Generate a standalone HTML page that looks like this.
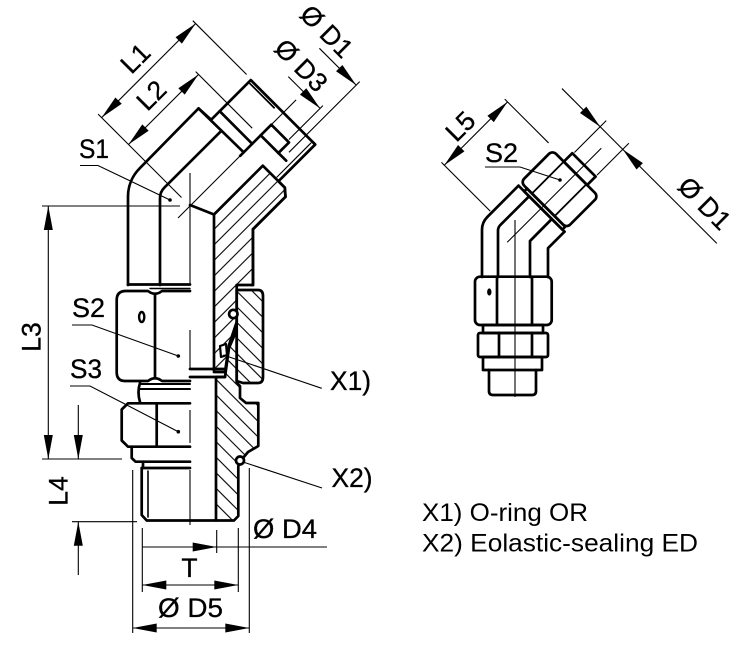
<!DOCTYPE html>
<html><head><meta charset="utf-8">
<style>
html,body{margin:0;padding:0;background:#fff;}
svg{display:block;}
text{font-family:"Liberation Sans",Arial,sans-serif;fill:#000;}
</style></head><body>
<svg width="745" height="652" viewBox="0 0 745 652" xmlns="http://www.w3.org/2000/svg">
<defs>
<pattern id="hf" width="11" height="11" patternUnits="userSpaceOnUse" patternTransform="rotate(45)">
<line x1="5.5" y1="0" x2="5.5" y2="11" stroke="#000" stroke-width="1.1"/>
</pattern>
<pattern id="hb" width="11" height="11" patternUnits="userSpaceOnUse" patternTransform="rotate(-45)">
<line x1="5.5" y1="0" x2="5.5" y2="11" stroke="#000" stroke-width="1.1"/>
</pattern>
<path id="ar" d="M0,0 L-24,-4.5 L-24,4.5Z" fill="#000"/>
</defs>
<rect width="745" height="652" fill="#fff"/>

<!-- ===== MAIN FIGURE: hatched sections ===== -->
<g stroke="#000" stroke-width="2.7" stroke-linejoin="round" stroke-linecap="round">
<polygon fill="url(#hf)" points="214,214.5 262.8,165.7 284.8,187.6 285.5,196.8 252.9,229.3 253,285 236.7,285 236.7,322 229,345 225,372 214,372"/>
<polygon fill="url(#hb)" points="216,377 225,377 229,348 236.7,330 236.7,383 240,386 240,398 246,403 258.3,403 258.3,446 248,452 243,458 238.3,466 238.3,516 234,520.5 216,520.5"/>
<path fill="url(#hb)" d="M236.7,290 L258,290 Q263,290 263,296 L263,377 Q263,383 258,383 L243,383 L236.7,381 Z"/>
</g>

<!-- ===== MAIN FIGURE: outlines ===== -->
<g fill="none" stroke="#000" stroke-width="2.7" stroke-linejoin="round" stroke-linecap="round">
<path d="M128,285 L128,196.6 A40,40 0 0 1 139.7,168.3 L198.5,108.4 L211.2,119.7 L250.8,80.1 L315.2,144.5 L278.4,181.3 L284.8,187.6 L285.5,196.8 L252.9,229.3 L253,285"/>
<path d="M160,285 L160,198.2 A15,15 0 0 1 164.4,187.6 L221.1,131.1"/>
<path d="M198.5,108.4 L243.7,152.3"/>
<path d="M219.7,111.2 L252.2,143.8"/>
<path d="M240.2,155.8 L260.7,135.3"/>
<polygon points="260.7,135.3 278.4,153 289,142.4 271.3,124.7"/>
<path d="M278.4,153 L286.2,160.7"/>
<path d="M250.1,83.7 L274.1,107.7" stroke-width="1.8"/>
<path d="M277,177 L310.9,143.1" stroke-width="1.2"/>
<path d="M190,205 L214,214.5"/>
<path d="M128,284.5 L190,284.5"/>
<path d="M150,288.5 L190,288.5" stroke-width="1.4"/>
<!-- S2 nut left -->
<path d="M190,291 L162,291 Q155,296.5 148,291 L125,291 Q116.7,291.5 116.7,300 L116.7,372 Q116.7,381 125,381 L148,381 Q155,375.5 162,381 L190,381"/>
<path d="M155,295 L155,377"/>
<ellipse cx="141.7" cy="317" rx="2.6" ry="5" stroke-width="2.4"/>
<!-- neck -->
<path d="M140,383 Q137,392 140,402"/>
<path d="M140,384 L190,384" stroke-width="2"/>
<path d="M140,389 L190,389" stroke-width="2"/>
<!-- S3 -->
<path d="M190,403.3 L128,403.3 L121.7,409.5 L121.7,440.5 L128,446.7 L190,446.7"/>
<path d="M156.7,403.3 L156.7,446.7"/>
<!-- collar + thread -->
<path d="M131.7,446.7 L131.7,458 L135.5,461.7 L190,461.7"/>
<path d="M143,461.7 L143,468"/>
<path d="M141.7,468 L190,468"/>
<path d="M141.7,468 L141.7,515 L146.7,520.5 L216,520.5"/>
<path d="M148,471 L148,517" stroke-width="1.6"/>
<!-- bore bottom lines -->
<path d="M190,369 L225,369"/>
<path d="M190,377 L225,377"/>
<!-- seals -->
<circle cx="233.3" cy="314" r="4.2" fill="#fff"/>
<path d="M220,346 L226,344 L227,355 L221,357 Z" fill="#fff" stroke-width="2.2"/>
<circle cx="240" cy="460.5" r="4" fill="#fff"/>
</g>

<!-- thin lines main -->
<g fill="none" stroke="#000" stroke-width="1.1">
<path d="M190,173 L190,285 M190,330 L190,370 M190,410 L190,443 M190,470 L190,525"/>
<path d="M178,218 L296.1,99.9"/>
<path d="M98.1,114.1 L181.5,197.5"/>
<path d="M192.8,20.7 L246.6,74.5"/>
<path d="M195.7,71.6 L252.2,128.2"/>
<path d="M289,152.3 L359.7,81.6"/>
<path d="M289,139.5 L322.9,105.6"/>
<path d="M101.6,117.6 L195.7,23.5"/>
<path d="M128.5,144.5 L198.5,74.5"/>
<path d="M319.4,48.3 L356.2,85.1"/>
<path d="M288.3,76.6 L320.1,108.4"/>
<path d="M42,206 L180,206"/>
<path d="M48.3,206 L48.3,459"/>
<path d="M42,459 L122,459"/>
<path d="M72,521.7 L137,521.7"/>
<path d="M78.3,405 L78.3,459 M78.3,521.7 L78.3,575"/>
<path d="M132.7,470 L132.7,633"/>
<path d="M142.3,528 L142.3,592"/>
<path d="M238.3,528 L238.3,592"/>
<path d="M249.3,468 L249.3,633"/>
<path d="M216.7,530 L216.7,553"/>
<path d="M142.3,547 L327,547"/>
<path d="M142.3,585 L238.3,585"/>
<path d="M132.7,628 L249.3,628"/>
<path d="M80,165.5 L98,165.5 L170,200"/>
<path d="M72,325 L92,325 L178.3,356"/>
<path d="M70,386 L90,386 L178.3,431.7"/>
<path d="M223.3,355 L321.7,388.3"/>
<path d="M243,462 L322,488"/>
</g>
<g fill="#000">
<circle cx="170" cy="200" r="1.8"/>
<circle cx="178.3" cy="356" r="1.8"/>
<circle cx="178.3" cy="431.7" r="1.8"/>
<use href="#ar" transform="translate(101.6,117.6) rotate(135)"/>
<use href="#ar" transform="translate(195.7,23.5) rotate(-45)"/>
<use href="#ar" transform="translate(128.5,144.5) rotate(135)"/>
<use href="#ar" transform="translate(198.5,74.5) rotate(-45)"/>
<use href="#ar" transform="translate(356.2,85.1) rotate(45)"/>
<use href="#ar" transform="translate(320.1,108.4) rotate(45)"/>
<use href="#ar" transform="translate(48.3,206) rotate(-90)"/>
<use href="#ar" transform="translate(48.3,459) rotate(90)"/>
<use href="#ar" transform="translate(78.3,459) rotate(90)"/>
<use href="#ar" transform="translate(78.3,521.7) rotate(-90)"/>
<use href="#ar" transform="translate(216.7,547) rotate(0)"/>
<use href="#ar" transform="translate(142.3,585) rotate(180)"/>
<use href="#ar" transform="translate(238.3,585) rotate(0)"/>
<use href="#ar" transform="translate(132.7,628) rotate(180)"/>
<use href="#ar" transform="translate(249.3,628) rotate(0)"/>
</g>

<!-- ===== SMALL FIGURE ===== -->
<g fill="none" stroke="#000" stroke-width="2.7" stroke-linejoin="round" stroke-linecap="round">
<path d="M482,277 L482,229.7 A18,18 0 0 1 487.3,217 L518.5,185.7"/>
<path d="M498,277 L498,230.8 A8,8 0 0 1 500.3,225.1 L529.1,196.3"/>
<path d="M530,277 L530,241 L551.8,219"/>
<path d="M548,277 L548,248.2 L564.5,231.7"/>
<rect x="475" y="276.7" width="76.7" height="48.3" rx="5"/>
<path d="M497,277 L497,325 M532,277 L532,325"/>
<rect x="483" y="325" width="60" height="8"/>
<rect x="478" y="333" width="70" height="24" rx="2"/>
<path d="M499,333 L499,357 M532,333 L532,357"/>
<rect x="483" y="357" width="59" height="13"/>
<path d="M489,370 L489,391 Q489,395 493,395 L532,395 Q536,395 536,391 L536,370"/>
<g transform="translate(515,234.5) rotate(45)">
<path d="M-32,-37 L33,-37"/>
<rect x="-24" y="-41" width="54" height="4"/>
<rect x="-33" y="-86" width="65" height="45" rx="5"/>
<path d="M-17,-86 L-17,-41 M15,-86 L15,-41" stroke-width="1.8"/>
<rect x="-17" y="-98" width="33" height="12"/>
</g>
</g>
<ellipse cx="489.3" cy="292" rx="2.2" ry="3.6" fill="#000"/>
<g fill="none" stroke="#000" stroke-width="1.1">
<path d="M515,220 L515,397"/>
<path d="M485,167 L520,167 L560,180"/>
<g transform="translate(515,234.5) rotate(45)">
<path d="M0,11 L0,-122"/>
<path d="M-16,-100 L-16,-145 M16,-100 L16,-145"/>
<path d="M-70,-136.4 L149,-136.4"/>
<path d="M-103,1 L-34,1 M-103,-88.5 L-41,-88.5"/>
<path d="M-99,1 L-99,-88.5"/>
</g>
</g>
<g fill="#000">
<circle cx="560" cy="180" r="1.8"/>
<g transform="translate(515,234.5) rotate(45)">
<use href="#ar" transform="translate(-16,-136.4) rotate(0)"/>
<use href="#ar" transform="translate(16,-136.4) rotate(180)"/>
<use href="#ar" transform="translate(-99,1) rotate(90)"/>
<use href="#ar" transform="translate(-99,-88.5) rotate(-90)"/>
</g>
</g>

<!-- ===== TEXT ===== -->
<g font-size="26.5" stroke="#000" stroke-width="0.3">
<text x="79" y="158" textLength="30" lengthAdjust="spacingAndGlyphs">S1</text>
<text x="72" y="317" textLength="33" lengthAdjust="spacingAndGlyphs">S2</text>
<text x="70" y="378" textLength="32" lengthAdjust="spacingAndGlyphs">S3</text>
<text x="330" y="390" textLength="41" lengthAdjust="spacingAndGlyphs">X1)</text>
<text x="331.5" y="487" textLength="41" lengthAdjust="spacingAndGlyphs">X2)</text>
<text x="253" y="538" textLength="64" lengthAdjust="spacingAndGlyphs">Ø D4</text>
<text x="158" y="617" textLength="65" lengthAdjust="spacingAndGlyphs">Ø D5</text>
<text x="189.5" y="577" text-anchor="middle">T</text>
<text x="485" y="162" textLength="33" lengthAdjust="spacingAndGlyphs">S2</text>
</g>
<g font-size="26.5" text-anchor="middle" stroke="#000" stroke-width="0.3">
<text transform="translate(31,337) rotate(-90)" dy="0.36em">L3</text>
<text transform="translate(58,491) rotate(-90)" dy="0.36em">L4</text>
<text transform="translate(135,58) rotate(-45)" dy="0.36em">L1</text>
<text transform="translate(151,95) rotate(-45)" dy="0.36em">L2</text>
<text transform="translate(460,126) rotate(-45)" dy="0.36em">L5</text>
<text transform="translate(327,31) rotate(45)" dy="0.36em">Ø D1</text>
<text transform="translate(301.5,65) rotate(45)" dy="0.36em">Ø D3</text>
<text transform="translate(705,203) rotate(45)" dy="0.36em">Ø D1</text>
</g>
<text x="422" y="521" font-size="25" textLength="166" lengthAdjust="spacingAndGlyphs">X1) O-ring OR</text>
<text x="422" y="551.5" font-size="25" textLength="276" lengthAdjust="spacingAndGlyphs">X2) Eolastic-sealing ED</text>
</svg>
</body></html>
